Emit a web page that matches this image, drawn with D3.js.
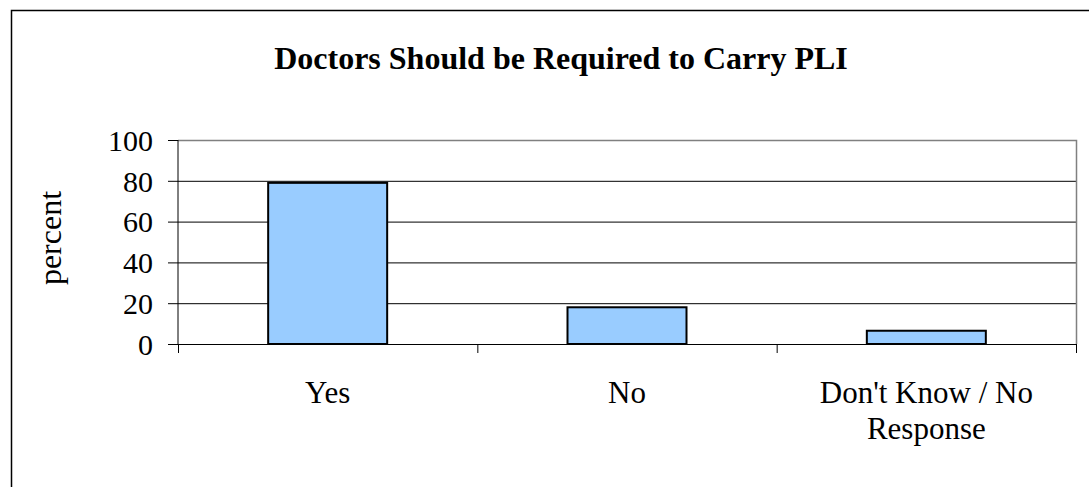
<!DOCTYPE html>
<html>
<head>
<script src="https://d3js.org/d3.v7.min.js"></script>
<style>
  body { margin: 0; background: #fff; }
  text { font-family: "Liberation Serif", "Times New Roman", serif; fill: #000; }
</style>
</head>
<body>
<script>
// data
var categories = ["Yes", "No", "Don't Know / No Response"];
var values = [79, 18, 6.5];
var yTicks = [0, 20, 40, 60, 80, 100];

var width = 1089, height = 487;
var plot = {left: 178, top: 140, right: 1076, bottom: 344};

var svg = d3.select("body").append("svg")
    .attr("width", width)
    .attr("height", height);

svg.append("rect").attr("width", width).attr("height", height).attr("fill", "#fff");

// outer chart frame (runs off the right and bottom)
svg.append("rect")
    .attr("x", 11.5).attr("y", 10.5)
    .attr("width", width + 20).attr("height", height + 20)
    .attr("fill", "none").attr("stroke", "#000").attr("stroke-width", 1.5);

svg.append("text")
    .attr("x", 561).attr("y", 69)
    .attr("text-anchor", "middle")
    .style("font-size", "32px").style("font-weight", "bold")
    .text("Doctors Should be Required to Carry PLI");

var x = d3.scaleBand().domain(categories)
    .range([plot.left, plot.right]).paddingInner(0).paddingOuter(0);
var y = d3.scaleLinear().domain([0, 100]).range([plot.bottom, plot.top]);

// gridlines
svg.append("g").selectAll("line")
    .data(yTicks.filter(function(d){ return d > 0 && d < 100; }))
    .enter().append("line")
    .attr("x1", plot.left).attr("x2", plot.right)
    .attr("y1", function(d){ return y(d) + 0.5; })
    .attr("y2", function(d){ return y(d) + 0.5; })
    .attr("stroke", "#000").attr("stroke-width", 1);

// top / right frame of plot area
svg.append("path")
    .attr("d", "M" + plot.left + "," + (plot.top + 0.5) + "H" + (plot.right + 0.5) + "V" + plot.bottom)
    .attr("fill", "none").attr("stroke", "#808080").attr("stroke-width", 1.5);

// bars
var bw = 119;
svg.append("g").selectAll("rect")
    .data(values)
    .enter().append("rect")
    .attr("x", function(d, i){ return x(categories[i]) + x.bandwidth() / 2 - bw / 2; })
    .attr("y", function(d){ return y(d); })
    .attr("width", bw)
    .attr("height", function(d){ return y(0) - y(d); })
    .attr("fill", "#99ccff")
    .attr("stroke", "#000").attr("stroke-width", 2);

// y axis
var yAxis = d3.axisLeft(y).tickValues(yTicks).tickSize(10).tickPadding(15);
var gy = svg.append("g").attr("transform", "translate(" + plot.left + ",0)").call(yAxis);
gy.selectAll("text").style("font-size", "30px").attr("dy", "0.34em");
gy.selectAll("line, path").attr("stroke", "#000");
gy.select(".domain").attr("d", "M0," + plot.top + "V" + (plot.bottom + 0.5));

// x axis: ticks at band boundaries
svg.append("line")
    .attr("x1", plot.left).attr("x2", plot.right + 0.5)
    .attr("y1", plot.bottom + 0.5).attr("y2", plot.bottom + 0.5)
    .attr("stroke", "#000");
var bounds = categories.map(function(c){ return x(c); }).concat([plot.right]);
svg.append("g").selectAll("line")
    .data(bounds).enter().append("line")
    .attr("x1", function(d){ return d + 0.5; }).attr("x2", function(d){ return d + 0.5; })
    .attr("y1", plot.bottom).attr("y2", plot.bottom + 9)
    .attr("stroke", "#000");

// category labels (wrapped like the original)
var labelLines = [["Yes"], ["No"], ["Don't Know / No", "Response"]];
var lab = svg.append("g").selectAll("text")
    .data(categories).enter().append("text")
    .attr("text-anchor", "middle")
    .attr("x", function(d){ return x(d) + x.bandwidth() / 2; })
    .attr("y", 403)
    .style("font-size", "31px");
lab.each(function(d, i){
  var t = d3.select(this);
  labelLines[i].forEach(function(s, j){
    t.append("tspan").attr("x", x(d) + x.bandwidth() / 2).attr("dy", j ? 36 : 0).text(s);
  });
});

svg.append("text")
    .attr("transform", "translate(61,238) rotate(-90)")
    .attr("text-anchor", "middle")
    .style("font-size", "32px")
    .text("percent");
</script>
</body>
</html>
